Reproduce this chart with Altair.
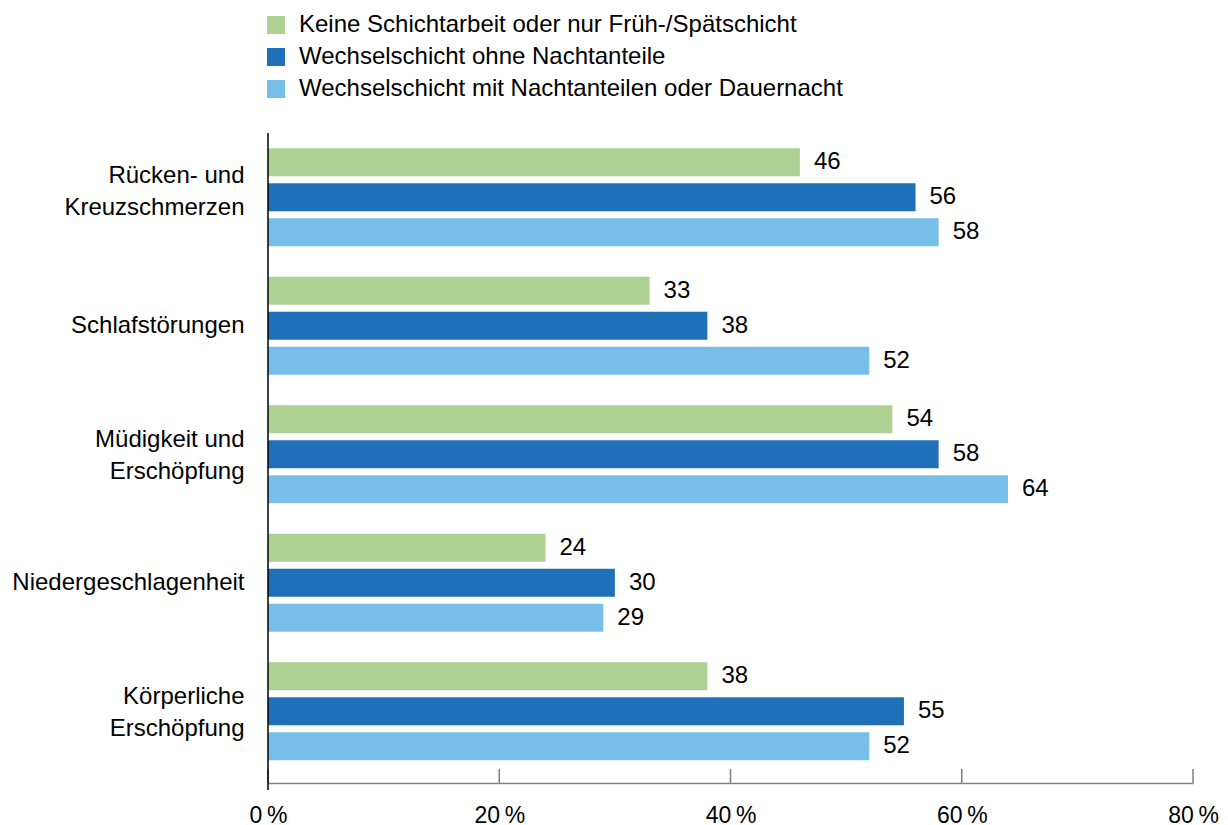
import altair as alt
import pandas as pd

categories = [
    "Rücken- und\nKreuzschmerzen",
    "Schlafstörungen",
    "Müdigkeit und\nErschöpfung",
    "Niedergeschlagenheit",
    "Körperliche\nErschöpfung",
]
series = [
    "Keine Schichtarbeit oder nur Früh-/Spätschicht",
    "Wechselschicht ohne Nachtanteile",
    "Wechselschicht mit Nachtanteilen oder Dauernacht",
]
keine = [46, 33, 54, 24, 38]
ohne_nacht = [56, 38, 58, 30, 55]
mit_nacht = [58, 52, 64, 29, 52]
colors = ["#acd192", "#1f70b8", "#77bee8"]
tick_values = [0, 20, 40, 60, 80]

rows = []
for s, vals in zip(series, [keine, ohne_nacht, mit_nacht]):
    for c, v in zip(categories, vals):
        rows.append({"cat": c, "series": s, "value": v})
df = pd.DataFrame(rows)

FONT = "Liberation Sans"
W, H = 925, 650

xscale = alt.Scale(domain=[0, 80], nice=False, zero=True)
yscale = alt.Scale(domain=categories, paddingInner=0, paddingOuter=0.0292, align=0)
offscale = alt.Scale(domain=series, paddingInner=0.2, paddingOuter=0.4357)

base = alt.Chart(df).encode(
    y=alt.Y(
        "cat:N",
        sort=categories,
        scale=yscale,
        axis=alt.Axis(
            title=None,
            domain=False,
            ticks=False,
            labelFont=FONT,
            labelFontSize=24,
            labelColor="#000000",
            labelPadding=24,
            labelLineHeight=32,
            labelLimit=0,
            labelExpr="split(datum.label, '\\n')",
            labelOffset={
                "condition": [
                    {"test": "indexof(datum.value, 'Rücken') >= 0", "value": -21},
                    {"test": "indexof(datum.value, '\\n') >= 0", "value": -14},
                ],
                "value": 0,
            },
        ),
    ),
    yOffset=alt.YOffset("series:N", sort=series, scale=offscale),
)

bars = base.mark_bar().encode(
    x=alt.X(
        "value:Q",
        scale=xscale,
        axis=alt.Axis(
            title=None,
            values=tick_values,
            ticks=False,
            grid=False,
            domainColor="#7f7f7f",
            domainWidth=1.5,
            labelFont=FONT,
            labelFontSize=23,
            labelColor="#000000",
            labelPadding=21,
            labelFlush=False,
            labelExpr="datum.value + '\u2009%'",
        ),
    ),
    color=alt.Color(
        "series:N",
        sort=series,
        scale=alt.Scale(domain=series, range=colors),
        legend=alt.Legend(
            title=None,
            orient="none",
            legendX=-4,
            legendY=-120,
            direction="vertical",
            symbolType="square",
            symbolSize=324,
            symbolStrokeWidth=0,
            symbolOpacity=1,
            labelFont=FONT,
            labelFontSize=24,
            labelColor="#000000",
            labelOffset=11,
            labelLimit=0,
            rowPadding=8,
            padding=0,
        ),
    ),
)

labels = base.mark_text(
    align="left", baseline="middle", dx=14, font=FONT, fontSize=24, color="#000000"
).encode(
    x=alt.X("value:Q", scale=xscale),
    text=alt.Text("value:Q"),
)

ticks = alt.Chart(pd.DataFrame({"t": tick_values})).mark_rule(
    color="#7f7f7f", strokeWidth=1.5
).encode(
    x=alt.X("t:Q", scale=xscale),
    y=alt.value(H - 14),
    y2=alt.value(H),
)

yaxis_line = alt.Chart(pd.DataFrame({"a": [0]})).mark_rule(
    color="#000000", strokeWidth=1.5
).encode(
    x=alt.value(0),
    y=alt.value(0),
    y2=alt.value(H + 7),
)

chart = (
    alt.layer(bars, labels, ticks, yaxis_line)
    .properties(
        width=W,
        height=H,
        autosize=alt.AutoSizeParams(type="none"),
        padding={"left": 260, "top": 125, "right": 26, "bottom": 44},
    )
    .configure_view(stroke=None)
)

chart.save("out.html", embed_options={"renderer": "svg", "actions": False})
